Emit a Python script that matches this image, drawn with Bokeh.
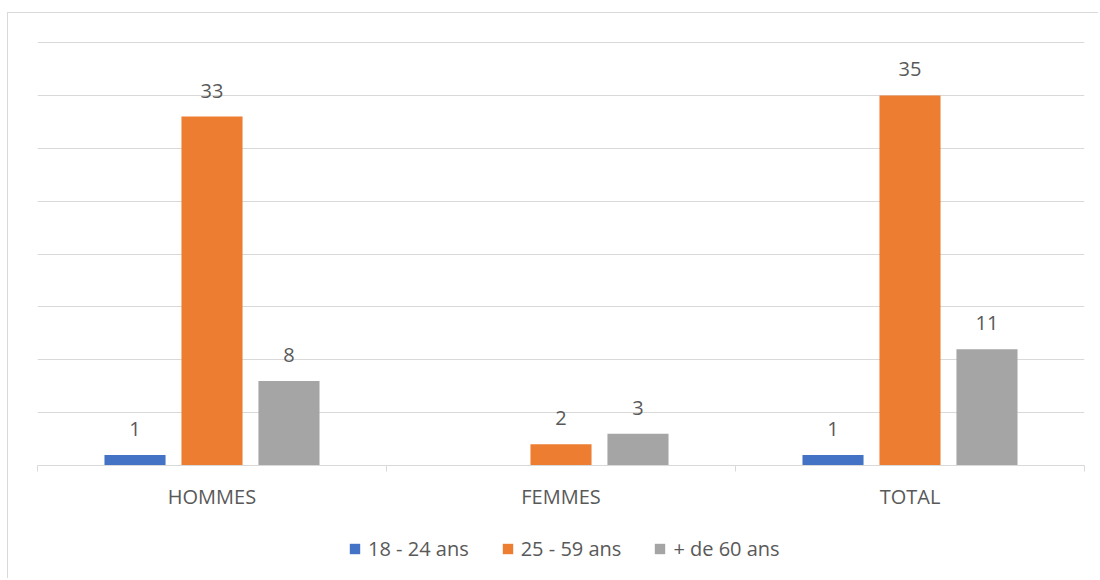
from bokeh.plotting import figure
from bokeh.layouts import column
from bokeh.models import (Range1d, FixedTicker, SingleIntervalTicker, ColumnDataSource,
                          LabelSet, Legend, LegendItem)
from bokeh.core.properties import value
from bokeh.transform import dodge
from bokeh.embed import file_html
from bokeh.resources import INLINE

categories = ["HOMMES", "FEMMES", "TOTAL"]
series_names = ["18 - 24 ans", "25 - 59 ans", "+ de 60 ans"]
v_18_24 = [1, 0, 1]
v_25_59 = [33, 2, 35]
v_60 = [8, 3, 11]

colors = ["#4472C4", "#ED7D31", "#A5A5A5"]
offsets = [-0.2206, 0.0, 0.2206]
FONT = "Open Sans"
TXT = "#595959"
FS = "20px"

n = len(categories)
x_pos = [i + 0.5 for i in range(n)]

p = figure(width=1090, height=507, x_range=Range1d(0, n), y_range=Range1d(0, 40.1),
           y_axis_location=None, output_backend="svg", toolbar_location=None,
           min_border_left=29, min_border_right=14, min_border_top=28, min_border_bottom=55)
p.outline_line_color = None
p.xgrid.visible = False
p.ygrid.ticker = SingleIntervalTicker(interval=5)
p.ygrid.grid_line_color = "#D9D9D9"

ax = p.xaxis[0]
ax.ticker = FixedTicker(ticks=x_pos, minor_ticks=list(range(n + 1)))
ax.major_label_overrides = {x: c for x, c in zip(x_pos, categories)}
ax.axis_line_color = "#D9D9D9"
ax.major_tick_line_color = None
ax.major_tick_out = 0
ax.major_tick_in = 0
ax.minor_tick_line_color = "#D9D9D9"
ax.minor_tick_out = 6
ax.minor_tick_in = 0
ax.major_label_standoff = 11
ax.major_label_text_font = FONT
ax.major_label_text_font_size = FS
ax.major_label_text_color = TXT

# legend strip below the chart (its bars lie far outside its visible ranges)
leg_fig = figure(width=1090, height=58, x_range=Range1d(100, 101), y_range=Range1d(100, 101),
                 x_axis_location=None, y_axis_location=None, output_backend="svg",
                 toolbar_location=None, min_border=0)
leg_fig.outline_line_color = None
leg_fig.xgrid.visible = False
leg_fig.ygrid.visible = False

items = []
for name, vals, col, off in zip(series_names, [v_18_24, v_25_59, v_60], colors, offsets):
    src = ColumnDataSource(dict(x=x_pos, y=vals,
                                lab=[str(v) if v else "" for v in vals]))
    p.vbar(x=dodge("x", off), top="y", width=0.175, source=src,
           fill_color=col, line_color=None)
    labels = LabelSet(x=dodge("x", off), y="y", text="lab", source=src,
                      text_align="center", text_baseline="alphabetic", y_offset=19,
                      text_font=value(FONT), text_font_size=FS, text_color=TXT)
    p.add_layout(labels)
    lr = leg_fig.vbar(x=dodge("x", off), top="y", width=0.175, source=src,
                      fill_color=col, line_color=None)
    items.append(LegendItem(label=name, renderers=[lr]))

legend = Legend(items=items, orientation="horizontal", location=(311, 16),
                glyph_width=13, glyph_height=13, label_standoff=7, spacing=32,
                padding=0, margin=0, border_line_color=None, background_fill_alpha=0,
                label_text_font=FONT, label_text_font_size=FS, label_text_color=TXT)
leg_fig.add_layout(legend)

layout = column(p, leg_fig, spacing=0,
                styles={"border-left": "1px solid #d9d9d9", "border-top": "1px solid #d9d9d9",
                        "margin": "12px 0 0 7px"})

open("out.html", "w").write(file_html(layout, INLINE))
